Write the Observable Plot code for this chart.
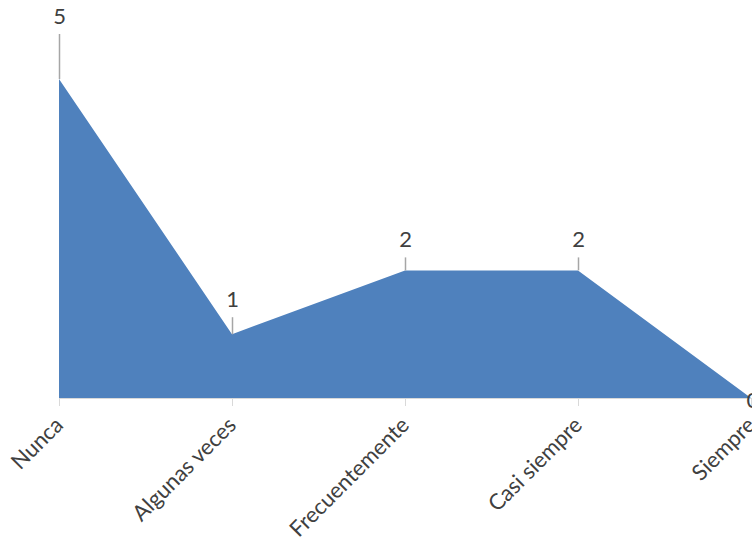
<!DOCTYPE html>
<html>
<head>
<meta charset="utf-8">
<script src="https://cdn.jsdelivr.net/npm/d3@7"></script>
<script src="https://cdn.jsdelivr.net/npm/@observablehq/plot@0.6"></script>
<style>
  html, body { margin: 0; padding: 0; background: #fff; overflow: hidden; }
  svg { display: block; }
</style>
</head>
<body>
<div id="chart"></div>
<script>
const categories = ["Nunca", "Algunas veces", "Frecuentemente", "Casi siempre", "Siempre"];
const values = [5, 1, 2, 2, 0];

const data = categories.map((c, i) => ({cat: c, val: values[i]}));

// leader line length (px) for each data label, as placed in the original
const leaderLift = {"Nunca": 45, "Algunas veces": 17, "Frecuentemente": 13, "Casi siempre": 13};

const font = "Lato, 'Open Sans', sans-serif";
const textColor = "#404040";

const marks = [
  Plot.areaY(data, {x: "cat", y: "val", fill: "#4F81BD", curve: "linear"}),
  Plot.ruleY([0], {stroke: "#d9d9d9", strokeWidth: 1.2}),
  Plot.axisX({
    tickSize: 8, tickPadding: 15, tickRotate: -45, stroke: "#d9d9d9",
    fill: textColor, fontSize: 22, fontFamily: font
  })
];

for (const d of data) {
  const lift = leaderLift[d.cat];
  if (lift !== undefined) {
    marks.push(Plot.ruleX([d], {x: "cat", y1: "val", y2: "val", insetTop: -lift, stroke: "#a6a6a6", strokeWidth: 1.5}));
    marks.push(Plot.text([d], {x: "cat", y: "val", text: d => String(d.val), dy: -(lift + 18), lineAnchor: "middle",
      fill: textColor, fontSize: 22, fontFamily: font}));
  } else {
    marks.push(Plot.text([d], {x: "cat", y: "val", text: d => String(d.val), dx: -5, dy: 2, textAnchor: "start", lineAnchor: "middle",
      fill: textColor, fontSize: 22, fontFamily: font}));
  }
}

const chart = Plot.plot({
  width: 752,
  height: 545,
  marginLeft: 59,
  marginRight: 1,
  marginTop: 79,
  marginBottom: 147,
  style: {overflow: "visible", fontFamily: font, background: "#fff"},
  x: {type: "point", domain: categories, padding: 0, label: null},
  y: {domain: [0, 5], axis: null},
  marks
});
document.getElementById("chart").append(chart);
</script>
</body>
</html>
